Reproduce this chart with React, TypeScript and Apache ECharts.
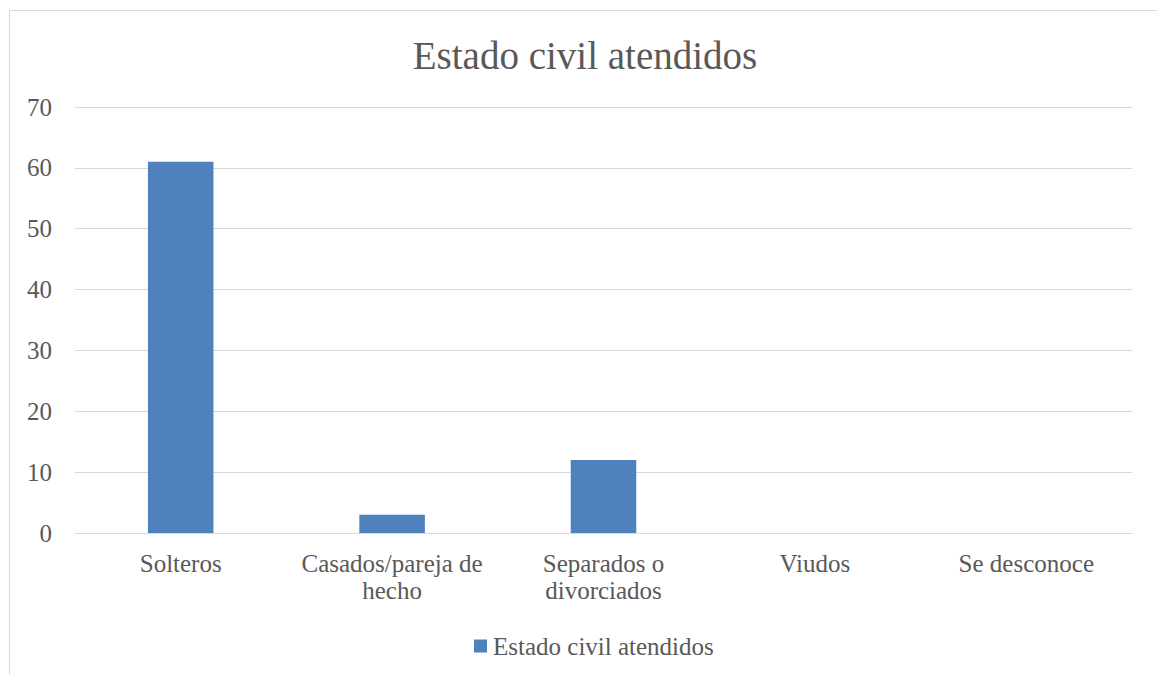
import React, { useEffect, useRef } from "react";
import * as echarts from "echarts";

const titleText = "Estado civil atendidos";
const seriesName = "Estado civil atendidos";
const categories = [
  "Solteros",
  "Casados/pareja de\nhecho",
  "Separados o\ndivorciados",
  "Viudos",
  "Se desconoce",
];
const values = [61, 3, 12, 0, 0];
const yMin = 0;
const yMax = 70;
const yInterval = 10;

const FONT = "'Liberation Serif', 'Times New Roman', serif";
const TEXT = "#595959";
const GRID = "#d9d9d9";
const BAR = "#4f81bd";

export default function App() {
  const ref = useRef<HTMLDivElement>(null);
  useEffect(() => {
    if (!ref.current) return;
    const chart = echarts.init(ref.current, null, { renderer: "svg" });
    chart.setOption({
      animation: false,
      backgroundColor: "#ffffff",
      textStyle: { fontFamily: FONT },
      title: {
        text: titleText,
        left: 580,
        top: 27,
        textAlign: "center",
        textStyle: {
          fontFamily: FONT,
          fontSize: 39,
          fontWeight: "normal",
          color: TEXT,
          lineHeight: 46,
        },
      },
      graphic: [
        {
          type: "rect",
          shape: { x: 9.5, y: 10.5, width: 1170, height: 700 },
          style: { fill: "none", stroke: GRID, lineWidth: 1 },
          silent: true,
          z: 100,
        },
      ],
      legend: {
        data: [seriesName],
        left: 469,
        top: 628,
        icon: "rect",
        itemWidth: 13,
        itemHeight: 13,
        itemGap: 6,
        textStyle: {
          fontFamily: FONT,
          fontSize: 25,
          color: TEXT,
          lineHeight: 26,
          padding: [0, 0, 0, 1],
        },
      },
      grid: { left: 75, right: 25, top: 107, bottom: 142, containLabel: false },
      xAxis: {
        type: "category",
        data: categories,
        axisLine: { show: true, lineStyle: { color: GRID, width: 1 } },
        axisTick: { show: false },
        axisLabel: {
          fontFamily: FONT,
          fontSize: 25,
          color: TEXT,
          lineHeight: 27,
          margin: 17,
          interval: 0,
          align: "center",
        },
      },
      yAxis: {
        type: "value",
        min: yMin,
        max: yMax,
        interval: yInterval,
        axisLine: { show: false },
        axisTick: { show: false },
        splitLine: { show: true, lineStyle: { color: GRID, width: 1 } },
        axisLabel: {
          fontFamily: FONT,
          fontSize: 25,
          color: TEXT,
          margin: 23,
        },
      },
      series: [
        {
          name: seriesName,
          type: "bar",
          data: values,
          barWidth: "31%",
          itemStyle: { color: BAR },
        },
      ],
    });
    return () => chart.dispose();
  }, []);
  return (
    <div
      ref={ref}
      style={{ position: "fixed", left: 0, top: 0, width: 1157, height: 675 }}
    />
  );
}
